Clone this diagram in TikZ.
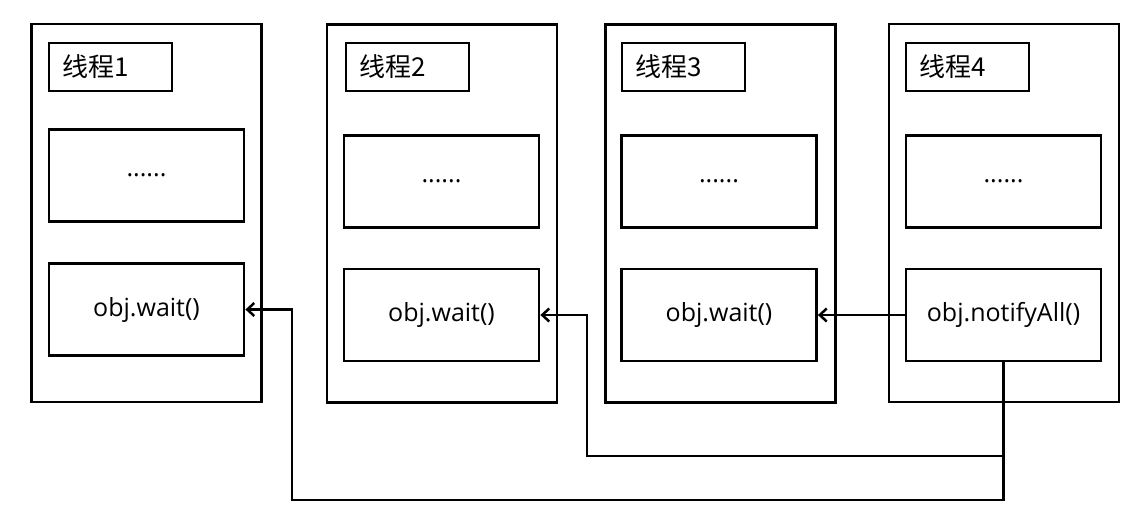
\documentclass[tikz,border=0pt]{standalone}
\usepackage{fontspec}
\setmainfont{Open Sans}
\newfontfamily\cjk{Noto Sans CJK SC}
\usetikzlibrary{arrows.meta}
\begin{document}
\begin{tikzpicture}[x=1pt,y=-1pt,
  outer/.style={draw,line width=2.5pt,minimum width=230pt,minimum height=378pt,inner sep=0pt},
  lbl/.style={draw,line width=2.8pt,minimum height=48pt,text width=97pt,inner xsep=13pt,inner ysep=0pt,align=left,font=\cjk\fontsize{26}{28}\selectfont},
  inbox/.style={draw,line width=2.8pt,minimum width=195pt,minimum height=92pt,inner sep=0pt,font=\fontsize{25}{28}\selectfont},
  arr/.style={line width=2.8pt,-{Straight Barb[length=7pt,width=13pt,line width=2.5pt]}}]
\useasboundingbox (0,0) rectangle (1146,523);
% thread boxes
\node[outer] (t1) at (146.5,213) {};
\node[outer] (t2) at (442,213.5) {};
\node[outer] (t3) at (720.5,213.5) {};
\node[outer] (t4) at (1004,213) {};
% labels
\node[lbl] (l1) at (110.5,67) {线程1};
\node[lbl] (l2) at (407.5,67) {线程2};
\node[lbl] (l3) at (683.5,67) {线程3};
\node[lbl] (l4) at (967.5,67) {线程4};
% dots boxes
\node[inbox] (d1) at (146.5,175.5) {......};
\node[inbox] (d2) at (441.5,181.5) {......};
\node[inbox] (d3) at (719,181.5) {......};
\node[inbox] (d4) at (1003.5,181.5) {......};
% method boxes
\node[inbox] (m1) at (146.5,309.5) {obj.wait()};
\node[inbox] (m2) at (441.5,315) {obj.wait()};
\node[inbox] (m3) at (719,315) {obj.wait()};
\node[inbox] (m4) at (1003.5,315) {obj.notifyAll()};
% connectors
\coordinate (c2) at (587,456);
\coordinate (c1) at (292,500);
\draw[arr] (m4.west) -- (m3.east);
\draw[arr] (m4.south) |- (c2) |- (m2.east);
\draw[arr] (m4.south) |- (c1) |- (m1.east);
\end{tikzpicture}
\end{document}
